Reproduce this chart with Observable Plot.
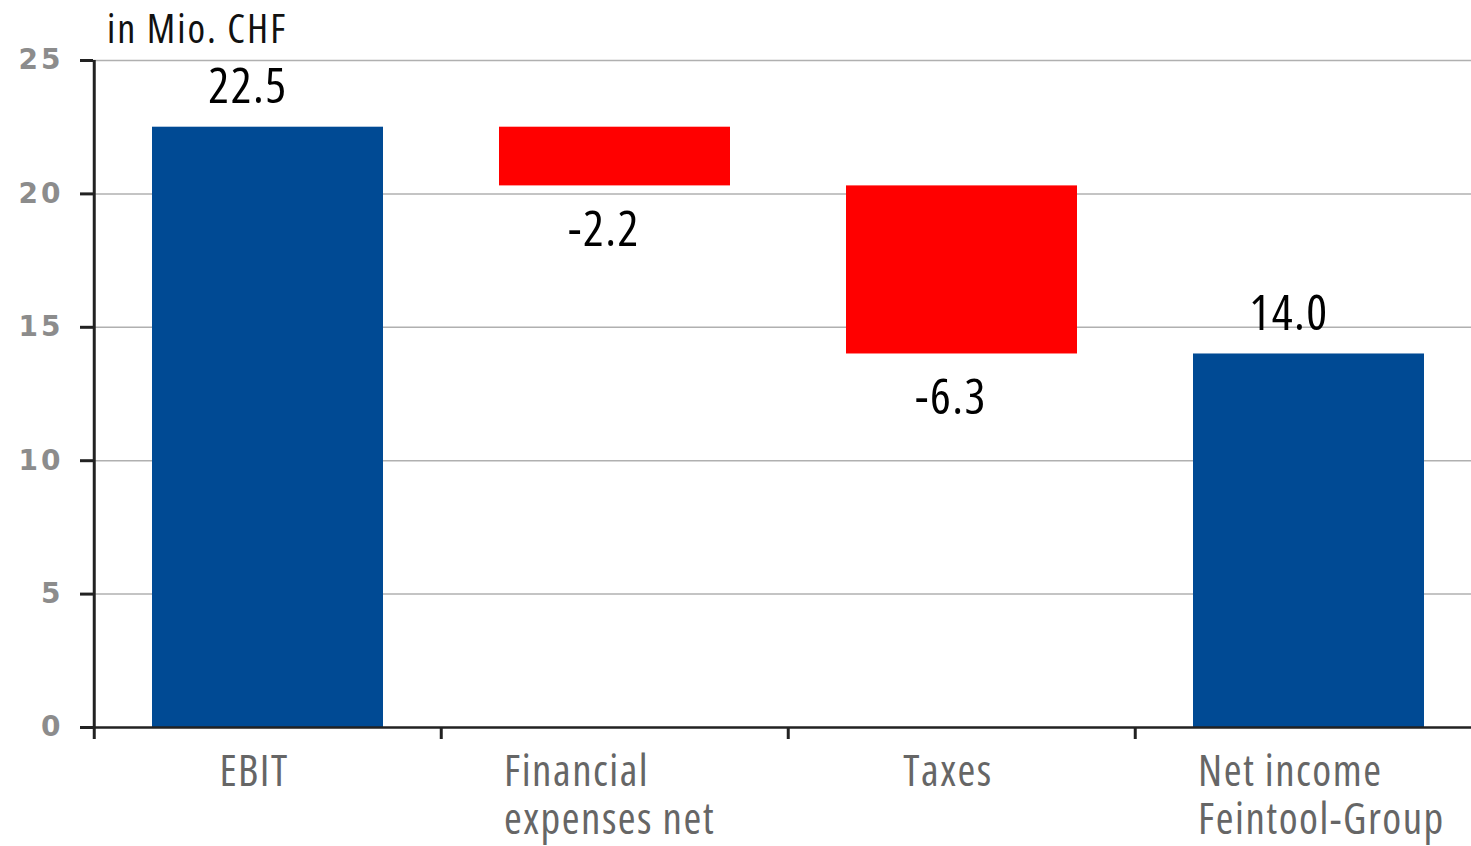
<!DOCTYPE html>
<html><head><meta charset="utf-8">
<script src="https://cdn.jsdelivr.net/npm/d3@7"></script>
<script src="https://cdn.jsdelivr.net/npm/@observablehq/plot@0.6"></script>
<style>
body{margin:0;background:#fff;}
#title{height:48px;padding-left:107px;font-family:"Open Sans",sans-serif;font-stretch:75%;font-size:40px;letter-spacing:2px;line-height:56px;color:#111;overflow:visible;white-space:nowrap;}
svg text{font-stretch:75%;}
g[aria-label="text"] text{letter-spacing:1.5px;}
g[aria-label="y-axis tick label"] text{letter-spacing:3px;font-stretch:100%;}
</style></head><body>
<div id="title">in Mio. CHF</div>
<div id="chart"></div>
<script>
const categories = ["EBIT", "Financial\nexpenses net", "Taxes", "Net income\nFeintool-Group"];
const values = [22.5, -2.2, -6.3, 14.0];
const kinds = ["total", "delta", "delta", "total"];
const yTicks = [0, 5, 10, 15, 20, 25];

let run = 0;
const rows = categories.map((c, i) => {
  let lo, hi;
  if (kinds[i] === "total") { lo = 0; hi = values[i]; run = values[i]; }
  else { const s = run, e = run + values[i]; lo = Math.min(s, e); hi = Math.max(s, e); run = e; }
  return {category: c, value: values[i], kind: kinds[i], lo, hi, label: values[i].toFixed(1)};
});

const xRange = [93, 1483];
const step = (xRange[1] - xRange[0]) / categories.length;
const narrow = '"Open Sans",sans-serif';

const chart = Plot.plot({
  width: 1471,
  height: 798,
  marginTop: 12,
  marginBottom: 119,
  marginLeft: 93,
  marginRight: 0,
  style: {background: "white", overflow: "visible", fontFamily: narrow},
  x: {type: "band", domain: categories, range: xRange, paddingInner: 1/3, paddingOuter: 1/6, axis: null},
  y: {domain: [0, 25]},
  color: {domain: ["total", "delta"], range: ["#004a94", "#ff0000"]},
  marks: [
    Plot.ruleY(yTicks.filter(d => d > 0), {stroke: "#b0b0b0", strokeWidth: 1.5}),
    Plot.barY(rows, {x: "category", y1: "lo", y2: "hi", fill: "kind"}),
    Plot.ruleY([0], {stroke: "#222", strokeWidth: 2.5}),
    Plot.ruleX([categories[0]], {x: d => d, y1: () => 0, y2: () => 25, dx: -step / 2, stroke: "#222", strokeWidth: 3}),
    Plot.ruleX(categories, {x: d => d, y1: () => 0, y2: () => 0, insetBottom: -12, dx: -step / 2, stroke: "#222", strokeWidth: 3}),
    Plot.axisY({ticks: yTicks, tickSize: 13, tickPadding: 17, fontSize: 28, fontWeight: "bold", fontFamily: "DejaVu Sans", fill: "#8c8c8c", stroke: "#222", strokeWidth: 3, label: null}),
    Plot.text(categories.filter(c => !c.includes("\n")), {x: d => d, y: () => 0, text: d => d, lineAnchor: "top", lineHeight: 1.116, dy: 24, dx: -14, textAnchor: "middle", fontSize: 43, fill: "#666"}),
    Plot.text(categories.filter(c => c.includes("\n")), {x: d => d, y: () => 0, text: d => d, lineAnchor: "top", lineHeight: 1.116, dy: 24, dx: -111, textAnchor: "start", fontSize: 43, fill: "#666"}),
    Plot.text(rows.filter(d => d.kind === "total"), {x: "category", y: "hi", text: "label", lineAnchor: "bottom", dy: -24, dx: -20, fontSize: 49, fill: "#000"}),
    Plot.text(rows.filter(d => d.kind === "delta"), {x: "category", y: "lo", text: "label", lineAnchor: "top", dy: 25, dx: -11, fontSize: 49, fill: "#000"})
  ]
});
document.getElementById("chart").appendChild(chart);
</script>
</body></html>
